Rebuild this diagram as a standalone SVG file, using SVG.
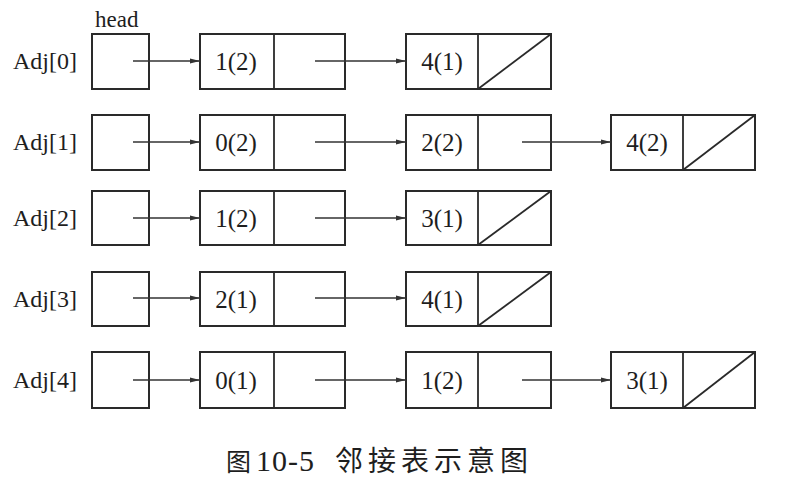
<svg xmlns="http://www.w3.org/2000/svg" width="803" height="489" viewBox="0 0 803 489">
<style>
.box{fill:none;stroke:#2a2a2a;stroke-width:2}
.ln{stroke:#2a2a2a;stroke-width:1.8;fill:none}
.arr{stroke:#333;stroke-width:1.6;fill:none;marker-end:url(#ah)}
text{font-family:"Liberation Serif",serif;fill:#1e1e1e}
.lbl{font-size:24px}
.val{font-size:25px;text-anchor:middle}
.cap{font-size:28px;font-family:"Noto Sans CJK SC",sans-serif}
.num{font-size:30px;font-family:"Liberation Serif",serif}
</style>
<defs>
<marker id="ah" viewBox="0 0 10 6" refX="10" refY="3" markerWidth="10" markerHeight="6" markerUnits="userSpaceOnUse" orient="auto">
<path d="M0,0.5 L10,3 L0,5.5 Z" fill="#333"/>
</marker>
</defs>
<rect width="803" height="489" fill="#fff"/>
<text x="95" y="27" style="font-size:23px">head</text>

<g id="row0">
<text class="lbl" x="13" y="69">Adj[0]</text>
<g id="h0"><rect class="box" x="92" y="34" width="57" height="55"/></g>
<g id="n0a"><rect class="box" x="200" y="34" width="145" height="55"/><line class="ln" x1="274" y1="34" x2="274" y2="89"/><text class="val" x="236" y="70">1(2)</text></g>
<g id="n0b"><rect class="box" x="406" y="34" width="145" height="55"/><line class="ln" x1="478" y1="34" x2="478" y2="89"/><line class="ln" x1="478" y1="89" x2="551" y2="34"/><text class="val" x="442" y="70">4(1)</text></g>
</g>

<g id="row1">
<text class="lbl" x="13" y="150">Adj[1]</text>
<g id="h1"><rect class="box" x="92" y="115" width="57" height="55"/></g>
<g id="n1a"><rect class="box" x="200" y="115" width="145" height="55"/><line class="ln" x1="274" y1="115" x2="274" y2="170"/><text class="val" x="236" y="151">0(2)</text></g>
<g id="n1b"><rect class="box" x="406" y="115" width="145" height="55"/><line class="ln" x1="478" y1="115" x2="478" y2="170"/><text class="val" x="442" y="151">2(2)</text></g>
<g id="n1c"><rect class="box" x="611" y="115" width="144" height="55"/><line class="ln" x1="683" y1="115" x2="683" y2="170"/><line class="ln" x1="683" y1="170" x2="755" y2="115"/><text class="val" x="647" y="151">4(2)</text></g>
</g>

<g id="row2">
<text class="lbl" x="13" y="226">Adj[2]</text>
<g id="h2"><rect class="box" x="92" y="191" width="57" height="54"/></g>
<g id="n2a"><rect class="box" x="200" y="191" width="145" height="54"/><line class="ln" x1="274" y1="191" x2="274" y2="245"/><text class="val" x="236" y="227">1(2)</text></g>
<g id="n2b"><rect class="box" x="406" y="191" width="145" height="54"/><line class="ln" x1="478" y1="191" x2="478" y2="245"/><line class="ln" x1="478" y1="245" x2="551" y2="191"/><text class="val" x="442" y="227">3(1)</text></g>
</g>

<g id="row3">
<text class="lbl" x="13" y="307">Adj[3]</text>
<g id="h3"><rect class="box" x="92" y="272" width="57" height="54"/></g>
<g id="n3a"><rect class="box" x="200" y="272" width="145" height="54"/><line class="ln" x1="274" y1="272" x2="274" y2="326"/><text class="val" x="236" y="308">2(1)</text></g>
<g id="n3b"><rect class="box" x="406" y="272" width="145" height="54"/><line class="ln" x1="478" y1="272" x2="478" y2="326"/><line class="ln" x1="478" y1="326" x2="551" y2="272"/><text class="val" x="442" y="308">4(1)</text></g>
</g>

<g id="row4">
<text class="lbl" x="13" y="388">Adj[4]</text>
<g id="h4"><rect class="box" x="92" y="352" width="57" height="56"/></g>
<g id="n4a"><rect class="box" x="200" y="352" width="145" height="56"/><line class="ln" x1="274" y1="352" x2="274" y2="408"/><text class="val" x="236" y="389">0(1)</text></g>
<g id="n4b"><rect class="box" x="406" y="352" width="145" height="56"/><line class="ln" x1="478" y1="352" x2="478" y2="408"/><text class="val" x="442" y="389">1(2)</text></g>
<g id="n4c"><rect class="box" x="611" y="352" width="144" height="56"/><line class="ln" x1="683" y1="352" x2="683" y2="408"/><line class="ln" x1="683" y1="408" x2="755" y2="352"/><text class="val" x="647" y="389">3(1)</text></g>
</g>

<g id="connectors">
<line class="arr" x1="133" y1="61" x2="200" y2="61"/>
<line class="arr" x1="315" y1="61" x2="406" y2="61"/>
<line class="arr" x1="133" y1="142" x2="200" y2="142"/>
<line class="arr" x1="315" y1="142" x2="406" y2="142"/>
<line class="arr" x1="522" y1="142" x2="611" y2="142"/>
<line class="arr" x1="133" y1="218" x2="200" y2="218"/>
<line class="arr" x1="315" y1="218" x2="406" y2="218"/>
<line class="arr" x1="133" y1="298" x2="200" y2="298"/>
<line class="arr" x1="315" y1="298" x2="406" y2="298"/>
<line class="arr" x1="133" y1="380" x2="200" y2="380"/>
<line class="arr" x1="315" y1="380" x2="406" y2="380"/>
<line class="arr" x1="522" y1="380" x2="611" y2="380"/>
</g>

<text class="cap" x="226" y="471" style="font-size:25px">图</text>
<text class="num" x="256" y="471" letter-spacing="1">10-5</text>
<text class="cap" x="335" y="471" letter-spacing="5">邻接表示意图</text>
</svg>
